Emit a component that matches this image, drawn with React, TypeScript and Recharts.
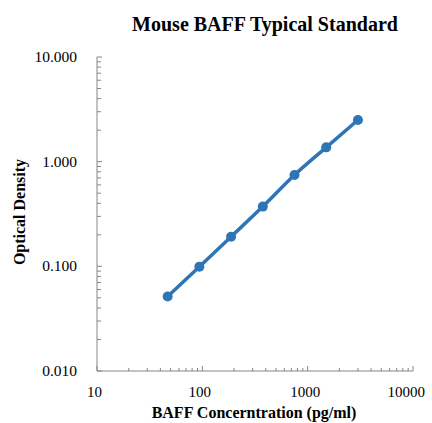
import React from "react";
import { LineChart, Line, XAxis, YAxis, Label } from "recharts";

const concentrations = [46.875, 93.75, 187.5, 375, 750, 1500, 3000];
const odValues = [0.0514, 0.0993, 0.192, 0.372, 0.746, 1.37, 2.5];
const xMajorTicks = [10, 100, 1000, 10000];
const yMajorTicks = [0.01, 0.1, 1, 10];

const data = concentrations.map((c, i) => ({ conc: c, od: odValues[i] }));

const withMinor = (majors: number[]) => {
  const out: number[] = [];
  majors.forEach((m, i) => {
    out.push(m);
    if (i < majors.length - 1) {
      for (let k = 2; k <= 9; k++) out.push(+(m * k).toPrecision(6));
    }
  });
  return out;
};

const xTicks = withMinor(xMajorTicks);
const yTicks = withMinor(yMajorTicks);

const isMajor = (v: number) => Math.abs(Math.log10(v) - Math.round(Math.log10(v))) < 1e-6;

const FONT = "'Liberation Serif', 'Times New Roman', serif";
const AXIS = "#868686";
const BLUE = "#2E75B6";
const textStyle = { fontFamily: FONT };
const lastX = xMajorTicks[xMajorTicks.length - 1];

const XTick = (props: any) => {
  const { x, y, payload } = props;
  const v = payload.value;
  const major = isMajor(v);
  const isLast = v === lastX;
  return (
    <g>
      <line x1={x} x2={x} y1={y} y2={y - (major ? 5 : 3)} stroke={AXIS} strokeWidth={1} />
      {major && (
        <text
          x={isLast ? x + 12 : x - 2.5}
          y={y + 21}
          dy={5}
          textAnchor={isLast ? "end" : "middle"}
          style={textStyle}
          fontFamily={FONT}
          fontSize={15}
          fill="#000"
        >
          {String(v)}
        </text>
      )}
    </g>
  );
};

const YTick = (props: any) => {
  const { x, y, payload } = props;
  const v = payload.value;
  const major = isMajor(v);
  return (
    <g>
      <line x1={x} x2={x + (major ? 5 : 4)} y1={y} y2={y} stroke={AXIS} strokeWidth={1} />
      {major && (
        <text x={x - 20} y={y} dy={5} textAnchor="end" style={textStyle} fontFamily={FONT} fontSize={15.5} fill="#000">
          {v.toFixed(3)}
        </text>
      )}
    </g>
  );
};

export default function App() {
  return (
    <div style={{ paddingTop: 8, paddingLeft: 8, width: 424, height: 415 }}>
      <style>{"body { margin: 0; overflow: hidden; }"}</style>
      <LineChart
        width={424}
        height={415}
        data={data}
        margin={{ top: 49, right: 19, left: 0, bottom: 0 }}
      >
        <XAxis
          dataKey="conc"
          type="number"
          scale="log"
          domain={[10, 10000]}
          ticks={xTicks}
          interval={0}
          allowDataOverflow
          height={52}
          tickSize={0}
          tickMargin={0}
          tickLine={false}
          tick={<XTick />}
          axisLine={{ stroke: AXIS, strokeWidth: 1 }}
        >
          <Label
            content={() => (
              <text x={246} y={405} dy={5} textAnchor="middle" style={textStyle} fontFamily={FONT} fontSize={16} fontWeight="bold" fill="#000">
                BAFF Concerntration (pg/ml)
              </text>
            )}
          />
        </XAxis>
        <YAxis
          dataKey="od"
          type="number"
          scale="log"
          domain={[0.01, 10]}
          ticks={yTicks}
          interval={0}
          allowDataOverflow
          width={89}
          tickSize={0}
          tickMargin={0}
          tickLine={false}
          tick={<YTick />}
          axisLine={{ stroke: AXIS, strokeWidth: 1 }}
        >
          <Label
            content={() => (
              <text
                x={12}
                y={204}
                dy={5}
                textAnchor="middle"
                style={textStyle}
                fontFamily={FONT}
                fontSize={16}
                fontWeight="bold"
                fill="#000"
                transform="rotate(-90 12 204)"
              >
                Optical Density
              </text>
            )}
          />
        </YAxis>
        <Line
          dataKey="od"
          type="monotone"
          stroke={BLUE}
          strokeWidth={3.5}
          dot={{ r: 5, fill: BLUE, stroke: BLUE, strokeWidth: 0 }}
          activeDot={false}
          isAnimationActive={false}
        />
        <text x={257} y={17} dy={6} textAnchor="middle" style={textStyle} fontFamily={FONT} fontSize={20} fontWeight="bold" fill="#000">
          Mouse BAFF Typical Standard
        </text>
      </LineChart>
    </div>
  );
}
